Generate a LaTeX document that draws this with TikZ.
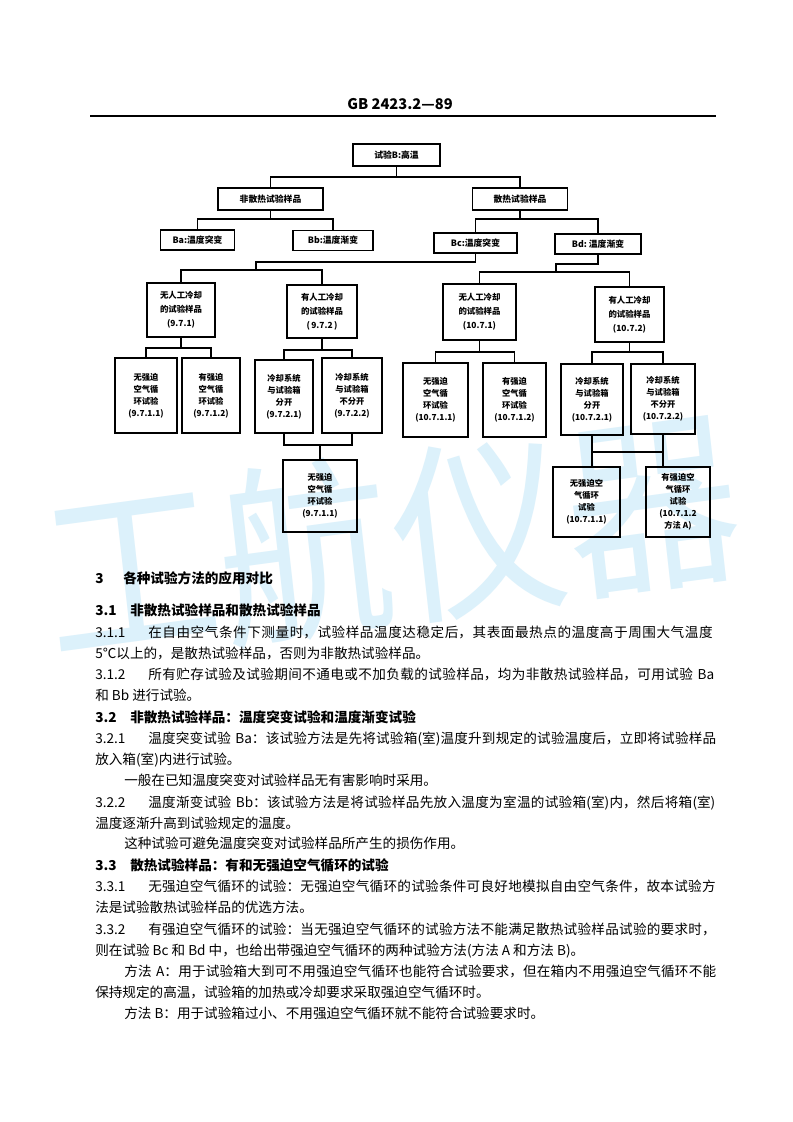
\documentclass[tikz,border=0pt]{standalone}
\usepackage{fontspec}
\setmainfont{Noto Sans CJK SC}
\XeTeXlinebreaklocale "zh"
\XeTeXlinebreakskip=0pt plus 2pt minus 0.3pt
\definecolor{wmblue}{RGB}{220,241,251}
\newcommand\bodyf{\fontsize{10.2}{14}\selectfont}
\newcommand\nbox[2]{\makebox[#1][l]{#2}}
\tikzset{
  wm/.style={text=wmblue, font=\fontsize{131}{131}\selectfont, yscale=1.1, rotate=7, inner sep=0pt},
  bxa/.style={draw, line width=0.9pt, inner sep=0pt, align=center, font=\bfseries\fontsize{6.6}{8}\selectfont},
  bxb/.style={draw, line width=0.9pt, inner sep=0pt, align=center, font=\bfseries\fontsize{6.3}{10.5}\selectfont},
  bxc/.style={draw, line width=0.9pt, inner sep=0pt, align=center, font=\bfseries\fontsize{6.2}{9}\selectfont},
  cn/.style={line width=0.9pt},
  fl/.style={anchor=base west, inner sep=0pt, text width=467.25pt, font=\bodyf, execute at begin node={\parfillskip=0pt\relax\noindent}},
  ln/.style={anchor=base west, inner sep=0pt, font=\bodyf},
  hd/.style={anchor=base west, inner sep=0pt, font=\bodyf\bfseries},
}
\begin{document}
\begin{tikzpicture}[x=0.75pt,y=-0.75pt]
\useasboundingbox (0,0) rectangle (793,1122);
\fill[white] (0,0) rectangle (793,1122);
% watermark
\node[wm] (wm1) at (131.4,572) {工};
\node[wm] (wm2) at (305.1,550.7) {航};
\node[wm] (wm3) at (478.9,529.3) {仪};
\node[wm] (wm4) at (652.6,508) {器};
% header
\node[font=\fontsize{11}{13}\selectfont\bfseries, inner sep=0pt] (hdr) at (400,104) {GB 2423.2—89};
\coordinate (rl) at (90,116);
\coordinate (rr) at (716,116);
\draw[line width=1.2pt] (rl) -- (rr);
% level 0-2
\node[bxa, minimum width=65.25pt, minimum height=16.5pt] (top) at (396.5,155) {试验B:高温};
\node[bxa, minimum width=78.75pt, minimum height=16.5pt] (ns) at (270.5,199) {非散热试验样品};
\node[bxa, minimum width=71.25pt, minimum height=16.5pt] (s) at (520,199) {散热试验样品};
\node[bxa, minimum width=55.5pt, minimum height=15pt] (Ba) at (197.5,240) {Ba:温度突变};
\node[bxa, minimum width=60pt, minimum height=15pt] (Bb) at (333,240.5) {Bb:温度渐变};
\node[bxa, minimum width=62.25pt, minimum height=15pt] (Bc) at (475.5,243) {Bc:温度突变};
\node[bxa, minimum width=64.5pt, minimum height=15pt] (Bd) at (598,244) {Bd:\ 温度渐变};
% level 3
\node[bxb, minimum width=51pt, minimum height=40.5pt] (n971) at (181,310) {无人工冷却\\的试验样品\\(9.7.1)};
\node[bxb, minimum width=52.5pt, minimum height=39.75pt] (n972) at (322,311.5) {有人工冷却\\的试验样品\\(\,9.7.2\,)};
\node[bxb, minimum width=54.75pt, minimum height=42pt] (n1071) at (479.5,312) {无人工冷却\\的试验样品\\(10.7.1)};
\node[bxb, minimum width=51.75pt, minimum height=41.25pt] (n1072) at (629.5,314.5) {有人工冷却\\的试验样品\\(10.7.2)};
% level 4
\node[bxc, minimum width=46.5pt, minimum height=56.25pt] (a1) at (146,395.5) {无强迫\\空气循\\环试验\\(9.7.1.1)};
\node[bxc, minimum width=43.5pt, minimum height=56.25pt] (a2) at (211,395.5) {有强迫\\空气循\\环试验\\(9.7.1.2)};
\node[bxc, minimum width=43.5pt, minimum height=54.75pt] (a3) at (284,396.5) {冷却系统\\与试验箱\\分开\\(9.7.2.1)};
\node[bxc, minimum width=45pt, minimum height=56.25pt] (a4) at (352,395.5) {冷却系统\\与试验箱\\不分开\\(9.7.2.2)};
\node[bxc, minimum width=48.75pt, minimum height=55.5pt] (b1) at (435.5,400) {无强迫\\空气循\\环试验\\(10.7.1.1)};
\node[bxc, minimum width=47.25pt, minimum height=55.5pt] (b2) at (514.5,400) {有强迫\\空气循\\环试验\\(10.7.1.2)};
\node[bxc, minimum width=46.5pt, minimum height=53.25pt] (b3) at (592,399.5) {冷却系统\\与试验箱\\分开\\(10.7.2.1)};
\node[bxc, minimum width=48pt, minimum height=52.5pt] (b4) at (663,399) {冷却系统\\与试验箱\\不分开\\(10.7.2.2)};
% level 5
\node[bxc, minimum width=55.5pt, minimum height=54pt] (c1) at (320,496) {无强迫\\空气循\\环试验\\(9.7.1.1)};
\node[bxc, minimum width=50.25pt, minimum height=52.5pt] (d1) at (586.5,502) {无强迫空\\气循环\\试验\\(10.7.1.1)};
\node[bxc, minimum width=48pt, minimum height=52.5pt] (d2) at (678,502) {有强迫空\\气循环\\试验\\(10.7.1.2\\方法 A)};
% connectors
\coordinate (j1) at (397,177);
\draw[cn] (top.south) -- (top.south |- j1);
\draw[cn] (ns.north) |- (s.north |- j1) -- (s.north);
\coordinate (j2) at (270,219);
\draw[cn] (ns.south) -- (ns.south |- j2);
\draw[cn] (Ba.north) |- (Bb.north |- j2) -- (Bb.north);
\coordinate (j2r) at (520,219);
\draw[cn] (s.south) -- (s.south |- j2r);
\draw[cn] (Bc.north) |- (Bd.north |- j2r) -- (Bd.north);
\coordinate (k1) at (256,262);
\coordinate (j3l) at (256,270);
\draw[cn] (Bc.south) |- (k1) -- (j3l);
\draw[cn] (n971.north) |- (n972.north |- j3l) -- (n972.north);
\coordinate (k3) at (556,264);
\coordinate (j3r) at (556,272);
\draw[cn] (Bd.south) |- (k3) -- (j3r);
\draw[cn] (n1071.north) |- (n1072.north |- j3r) -- (n1072.north);
\coordinate (j4a) at (181,348);
\draw[cn] (n971.south) -- (n971.south |- j4a);
\draw[cn] (a1.north) |- (a2.north |- j4a) -- (a2.north);
\coordinate (j4b) at (322,350);
\draw[cn] (n972.south) -- (n972.south |- j4b);
\draw[cn] (a3.north) |- (a4.north |- j4b) -- (a4.north);
\coordinate (j4c) at (479,352);
\draw[cn] (n1071.south) -- (n1071.south |- j4c);
\draw[cn] (b1.north) |- (b2.north |- j4c) -- (b2.north);
\coordinate (j4d) at (630,352);
\draw[cn] (n1072.south) -- (n1072.south |- j4d);
\draw[cn] (b3.north) |- (b4.north |- j4d) -- (b4.north);
\coordinate (m1) at (320,445);
\draw[cn] (a3.south) |- (a4.south |- m1) -- (a4.south);
\draw[cn] (c1.north |- m1) -- (c1.north);
\coordinate (m2) at (620,452);
\draw[cn] (b3.south) -- (b3.south |- d1.north);
\draw[cn] (b4.south) -- (b4.south |- d2.north);
\draw[cn] (b3.south |- m2) -- (b4.south |- m2);
% body text
\node[hd] (t01) at (95,583) {\nbox{21pt}{3}各种试验方法的应用对比};
\node[hd] (t02) at (95,615) {\nbox{26.25pt}{3.1}非散热试验样品和散热试验样品};
\node[fl] (t03) at (95,637) {\nbox{39.75pt}{3.1.1}在自由空气条件下测量时，试验样品温度达稳定后，其表面最热点的温度高于周围大气温度};
\node[ln] (t04) at (95,658) {5℃以上的，是散热试验样品，否则为非散热试验样品。};
\node[fl] (t05) at (95,679) {\nbox{39.75pt}{3.1.2}所有贮存试验及试验期间不通电或不加负载的试验样品，均为非散热试验样品，可用试验 Ba};
\node[ln] (t06) at (95,700) {和 Bb 进行试验。};
\node[hd] (t07) at (95,722) {\nbox{26.25pt}{3.2}非散热试验样品：温度突变试验和温度渐变试验};
\node[fl] (t08) at (95,743) {\nbox{39.75pt}{3.2.1}温度突变试验 Ba：该试验方法是先将试验箱(室)温度升到规定的试验温度后，立即将试验样品};
\node[ln] (t09) at (95,764) {放入箱(室)内进行试验。};
\node[ln] (t10) at (124,785) {一般在已知温度突变对试验样品无有害影响时采用。};
\node[fl] (t11) at (95,807) {\nbox{39.75pt}{3.2.2}温度渐变试验 Bb：该试验方法是将试验样品先放入温度为室温的试验箱(室)内，然后将箱(室)};
\node[ln] (t12) at (95,828) {温度逐渐升高到试验规定的温度。};
\node[ln] (t13) at (124,848) {这种试验可避免温度突变对试验样品所产生的损伤作用。};
\node[hd] (t14) at (95,870) {\nbox{26.25pt}{3.3}散热试验样品：有和无强迫空气循环的试验};
\node[fl] (t15) at (95,891) {\nbox{39.75pt}{3.3.1}无强迫空气循环的试验：无强迫空气循环的试验条件可良好地模拟自由空气条件，故本试验方};
\node[ln] (t16) at (95,912) {法是试验散热试验样品的优选方法。};
\node[fl] (t17) at (95,934) {\nbox{39.75pt}{3.3.2}有强迫空气循环的试验：当无强迫空气循环的试验方法不能满足散热试验样品试验的要求时，};
\node[ln] (t18) at (95,955) {则在试验 Bc 和 Bd 中，也给出带强迫空气循环的两种试验方法(方法 A 和方法 B)。};
\node[fl] (t19) at (95,976) {\hspace*{21.75pt}方法 A：用于试验箱大到可不用强迫空气循环也能符合试验要求，但在箱内不用强迫空气循环不能};
\node[ln] (t20) at (95,997) {保持规定的高温，试验箱的加热或冷却要求采取强迫空气循环时。};
\node[ln] (t21) at (124,1018) {方法 B：用于试验箱过小、不用强迫空气循环就不能符合试验要求时。};
\end{tikzpicture}
\end{document}
